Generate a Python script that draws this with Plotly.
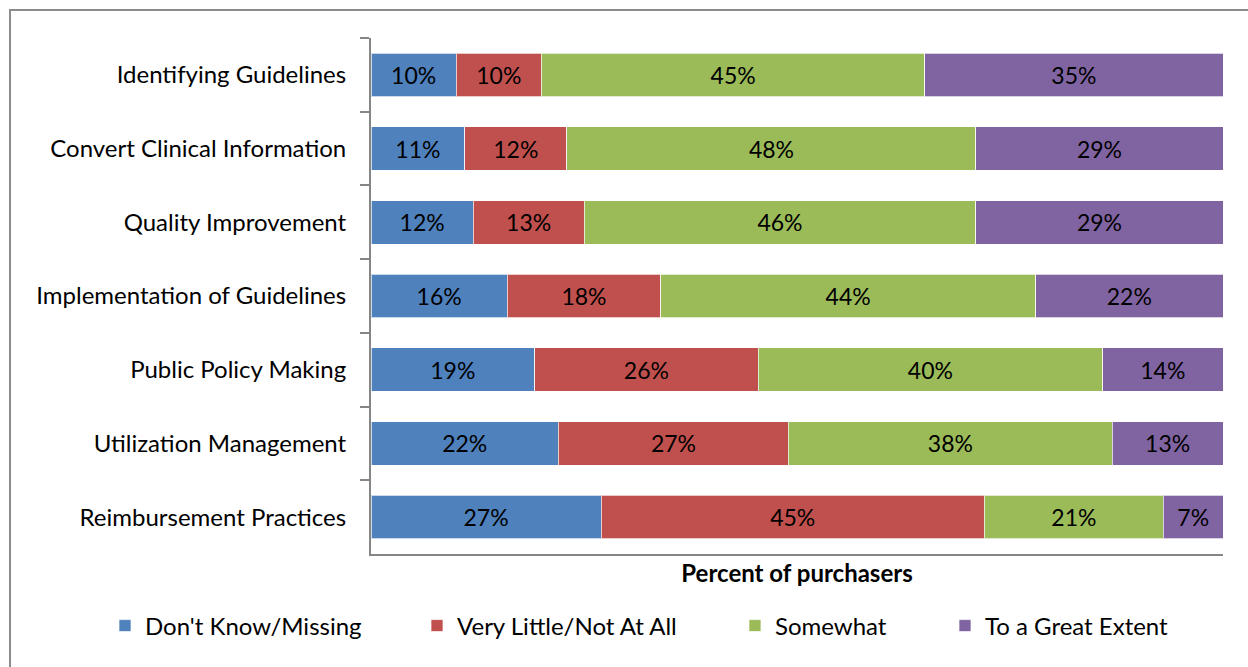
import plotly.graph_objects as go

categories = [
    "Identifying Guidelines",
    "Convert Clinical Information",
    "Quality Improvement",
    "Implementation of Guidelines",
    "Public Policy Making",
    "Utilization Management",
    "Reimbursement Practices",
]
dont_know = [10, 11, 12, 16, 19, 22, 27]
very_little = [10, 12, 13, 18, 26, 27, 45]
somewhat = [45, 48, 46, 44, 40, 38, 21]
great_extent = [35, 29, 29, 22, 14, 13, 7]

series_names = ["Don't Know/Missing", "Very Little/Not At All", "Somewhat", "To a Great Extent"]
series_values = [dont_know, very_little, somewhat, great_extent]
series_colors = ["#4F81BD", "#C0504D", "#9BBB59", "#8064A2"]
legend_ids = ["legend", "legend2", "legend3", "legend4"]
legend_x = [-0.3122, 0.0540, 0.4272, 0.6737]

FONT = "Lato, Open Sans, sans-serif"

fig = go.Figure()
for name, vals, color, lg in zip(series_names, series_values, series_colors, legend_ids):
    fig.add_trace(go.Bar(
        y=categories,
        x=vals,
        name=name,
        orientation="h",
        marker=dict(color=color, line=dict(color="rgba(255,255,255,0.7)", width=1)),
        text=[f"{v}%" for v in vals],
        textposition="inside",
        insidetextanchor="middle",
        textangle=0,
        textfont=dict(family=FONT, size=23, color="black"),
        legend=lg,
        showlegend=True,
    ))

legend_common = dict(
    orientation="h",
    yref="container",
    y=1 - 626 / 667,
    yanchor="middle",
    xanchor="left",
    font=dict(family=FONT, size=24, color="black"),
    bgcolor="rgba(0,0,0,0)",
    itemwidth=30,
)

layout_legends = {}
for lg, lx in zip(legend_ids, legend_x):
    layout_legends[lg] = dict(legend_common, x=lx)

fig.update_layout(
    barmode="stack",
    barnorm="percent",
    bargap=0.41,
    width=1248,
    height=667,
    margin=dict(l=371, r=25, t=38, b=113, autoexpand=False),
    paper_bgcolor="white",
    plot_bgcolor="white",
    font=dict(family=FONT, color="black"),
    showlegend=True,
    uniformtext=dict(minsize=23, mode="show"),
    **layout_legends,
)

fig.update_xaxes(
    range=[0, 100],
    showticklabels=False,
    showgrid=False,
    zeroline=False,
    showline=True,
    linecolor="#868686",
    linewidth=2,
    automargin=False,
    title=dict(text="<b>Percent of purchasers</b>", font=dict(family=FONT, size=24, color="black"), standoff=10),
    fixedrange=True,
)
fig.update_yaxes(
    autorange="reversed",
    automargin=False,
    showgrid=False,
    showline=True,
    linecolor="#868686",
    linewidth=2,
    ticks="outside",
    tickson="boundaries",
    ticklen=9,
    tickcolor="#868686",
    tickwidth=2,
    ticklabelstandoff=18,
    tickfont=dict(family=FONT, size=24, color="black"),
)

# chart-area frame (open on the right and bottom, as cropped)
fig.add_shape(
    type="rect", xref="paper", yref="paper",
    x0=-361 / 852, x1=1.2, y0=-0.3, y1=1 + 28 / 516,
    line=dict(color="#8C8C8C", width=2), fillcolor="rgba(0,0,0,0)", layer="below",
)

fig.write_html("out.html")
